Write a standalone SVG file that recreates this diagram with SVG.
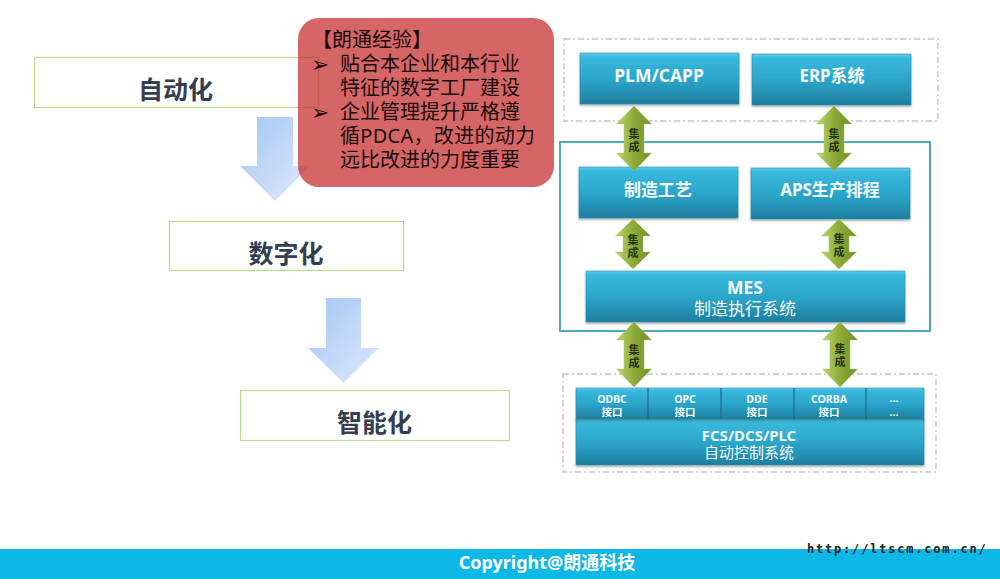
<svg xmlns="http://www.w3.org/2000/svg" width="1000" height="579" viewBox="0 0 1000 579">
<style>
text{font-family:"Noto Sans","Noto Sans CJK SC",sans-serif}
.stage{fill:#fff;stroke:#b5dd8e;stroke-width:1.2}
.stage-t{font-size:25px;font-weight:700;fill:#333f50;text-anchor:middle}
.down{fill:url(#down)}
.dash{fill:#fff;stroke:#c4c4c4;stroke-width:1.4;stroke-dasharray:6 3 2 3}
.box{fill:url(#blue);stroke:#2a8aa8;stroke-width:.6;filter:url(#sh)}
.w{fill:#f2fbfe;text-anchor:middle}
.b{font-weight:700}
.s{font-size:10.500px}
.dbl{fill:url(#green);stroke:#a9c46a;stroke-width:.5}
.j{font-size:11px;font-weight:700;fill:#26330f;text-anchor:middle}
.red{font-size:20px;fill:#1a0808}
.bul{font-family:"DejaVu Sans",sans-serif;font-size:22px}
.sep{stroke:#1c6a85;stroke-width:1.2}
</style>
<defs>
<linearGradient id="down" x1="0" y1="0" x2="1" y2="1"><stop offset="0" stop-color="#a3c6f5"/><stop offset="1" stop-color="#dfe9fa"/></linearGradient>
<linearGradient id="blue" x1="0" y1="0" x2="0" y2="1"><stop offset="0" stop-color="#5fd0ec"/><stop offset=".08" stop-color="#38b9de"/><stop offset=".55" stop-color="#2ba3c8"/><stop offset="1" stop-color="#1d7e9e"/></linearGradient>
<linearGradient id="green" x1="0" y1="0" x2="1" y2="0"><stop offset="0" stop-color="#bad56a"/><stop offset=".5" stop-color="#8cab38"/><stop offset="1" stop-color="#6f8f26"/></linearGradient>
<filter id="sh" x="-5%" y="-10%" width="110%" height="125%"><feDropShadow dx="0" dy="1.5" stdDeviation="1.2" flood-color="#000" flood-opacity=".35"/></filter>
<path id="d65" d="M0 0L17.500 18H10V47H17.500L0 65L-17.500 47H-10V18H-17.500Z"/>
<path id="d50" d="M0 0L17.500 17H10V33H17.500L0 50L-17.500 33H-10V17H-17.500Z"/>
</defs>
<rect width="1000" height="579" fill="#fff"/>

<g id="arch-upper"><rect class="dash" x="564" y="39" width="374" height="82"/></g>
<g id="arch-mid"><rect x="560" y="142" width="370" height="189" fill="#fff" stroke="#4fa9bd" stroke-width="2"/></g>
<g id="arch-lower"><rect class="dash" x="563" y="374" width="373" height="98"/></g>

<g id="plm"><rect class="box" x="580" y="53" width="159" height="51"/><text class="w b" x="659" y="82" font-size="17.500">PLM/CAPP</text></g>
<g id="erp"><rect class="box" x="752" y="54" width="159" height="51"/><text class="w b" x="832" y="82" font-size="17">ERP系统</text></g>
<g id="craft"><rect class="box" x="579" y="167" width="159" height="51"/><text class="w b" x="658" y="196" font-size="17">制造工艺</text></g>
<g id="aps"><rect class="box" x="751" y="168" width="159" height="51"/><text class="w b" x="830" y="196" font-size="17">APS生产排程</text></g>
<g id="mes"><rect class="box" x="586" y="271" width="319" height="51"/><text class="w b" x="745" y="294" font-size="17.500">MES</text><text class="w" x="745" y="315" font-size="17">制造执行系统</text></g>
<g id="fcs"><rect class="box" x="576" y="419" width="348" height="46"/><text class="w b" x="749" y="441" font-size="15">FCS/DCS/PLC</text><text class="w" x="749" y="458" font-size="15">自动控制系统</text></g>
<g id="interfaces"><rect class="box" x="576" y="388" width="348" height="31"/>
<line class="sep" x1="648" y1="388" x2="648" y2="419"/><line class="sep" x1="721" y1="388" x2="721" y2="419"/><line class="sep" x1="794" y1="388" x2="794" y2="419"/><line class="sep" x1="866" y1="388" x2="866" y2="419"/>
<text class="w b s" x="612" y="403">ODBC</text><text class="w b s" x="612" y="415.500">接口</text>
<text class="w b s" x="685" y="403">OPC</text><text class="w b s" x="685" y="415.500">接口</text>
<text class="w b s" x="757" y="403">DDE</text><text class="w b s" x="757" y="415.500">接口</text>
<text class="w b s" x="829" y="403">CORBA</text><text class="w b s" x="829" y="415.500">接口</text>
<text class="w b s" x="894" y="402">...</text><text class="w b s" x="894" y="415.500">...</text></g>

<g id="connectors">
<use href="#d65" class="dbl" x="634" y="106"/><text class="j" x="634" y="138">集</text><text class="j" x="634" y="151">成</text>
<use href="#d65" class="dbl" x="834" y="106"/><text class="j" x="834" y="138">集</text><text class="j" x="834" y="151">成</text>
<use href="#d50" class="dbl" x="633" y="219"/><text class="j" x="633" y="244">集</text><text class="j" x="633" y="257">成</text>
<use href="#d50" class="dbl" x="839" y="219"/><text class="j" x="839" y="243">集</text><text class="j" x="839" y="256">成</text>
<use href="#d65" class="dbl" x="634" y="322"/><text class="j" x="634" y="354">集</text><text class="j" x="634" y="367">成</text>
<use href="#d65" class="dbl" x="840" y="322"/><text class="j" x="840" y="353">集</text><text class="j" x="840" y="366">成</text>
</g>

<g id="automation"><rect class="stage" x="34.500" y="57.500" width="284" height="50"/><text class="stage-t" x="175.500" y="99">自动化</text></g>
<g id="digital"><rect class="stage" x="169.500" y="221.500" width="234" height="49"/><text class="stage-t" x="286" y="263">数字化</text></g>
<g id="smart"><rect class="stage" x="240.500" y="390.500" width="269" height="50"/><text class="stage-t" x="374.500" y="432">智能化</text></g>
<g id="arrow-1"><path class="down" d="M257 117H293V166H310L275 201L240 166H257Z"/></g>
<g id="arrow-2"><path class="down" d="M326 298H361V348H379L343.500 383L308 348H326Z"/></g>

<g id="experience"><rect x="298" y="18" width="256" height="169" rx="21" fill="#c62a2a" fill-opacity=".72"/>
<text class="red" x="312" y="47">【朗通经验】</text>
<text class="red bul" x="311" y="72">➢</text><text class="red" x="340" y="71">贴合本企业和本行业</text>
<text class="red" x="340" y="95">特征的数字工厂建设</text>
<text class="red bul" x="311" y="120">➢</text><text class="red" x="340" y="119">企业管理提升严格遵</text>
<text class="red" x="340" y="143" textLength="195">循PDCA，改进的动力</text>
<text class="red" x="340" y="167">远比改进的力度重要</text></g>

<g id="footer"><rect y="549" width="1000" height="30" fill="#0cb9e6"/>
<text x="547" y="569" font-size="18" font-weight="700" fill="#fff" text-anchor="middle">Copyright@朗通科技</text>
<text x="807" y="553" font-size="12" font-weight="700" letter-spacing="1.800" style="font-family:'DejaVu Sans Mono',monospace" fill="#222">http://ltscm.com.cn/</text></g>
</svg>
